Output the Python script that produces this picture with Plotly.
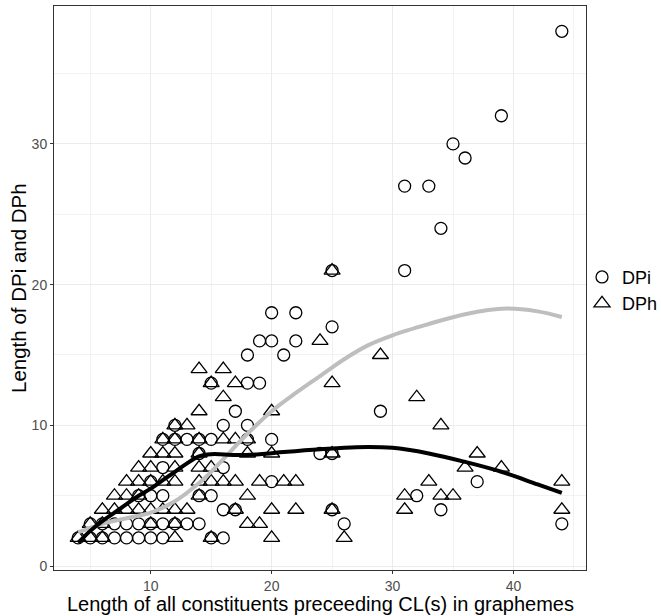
import plotly.graph_objects as go

# DPi (circles)
dpi_x = [4,5,6,7,8,9,10,11,15,16,
         5,6,7,8,9,10,11,12,13,14,26,44,
         16,17,25,34,
         9,10,11,14,15,32,
         10,20,37,
         11,16,
         14,24,25,
         11,12,13,14,15,18,20,
         12,16,18,
         17,29,
         15,18,19,
         18,21,
         19,20,22,
         25,
         20,22,
         25,31,
         34,31,33,36,35,39,44]
dpi_y = [2,2,2,2,2,2,2,2,2,2,
         3,3,3,3,3,3,3,3,3,3,3,3,
         4,4,4,4,
         5,5,5,5,5,5,
         6,6,6,
         7,7,
         8,8,8,
         9,9,9,9,9,9,9,
         10,10,10,
         11,11,
         13,13,13,
         15,15,
         16,16,16,
         17,
         18,18,
         21,21,
         24,27,27,29,30,32,38]

# DPh (triangles)
dph_x = [4,5,6,12,15,20,26,
         5,6,10,12,18,19,
         6,7,8,9,10,11,12,13,17,20,22,25,31,44,
         7,8,9,14,18,31,34,35,
         8,9,10,11,12,14,15,16,17,19,21,22,33,44,
         9,10,12,14,15,36,39,
         10,11,12,14,18,20,25,37,
         11,12,14,16,17,18,
         12,13,34,
         14,20,
         16,32,
         15,17,25,
         14,16,
         29,24,25]
dph_y = [2,2,2,2,2,2,2,
         3,3,3,3,3,3,
         4,4,4,4,4,4,4,4,4,4,4,4,4,4,
         5,5,5,5,5,5,5,5,
         6,6,6,6,6,6,6,6,6,6,6,6,6,6,
         7,7,7,7,7,7,7,
         8,8,8,8,8,8,8,8,
         9,9,9,9,9,9,
         10,10,10,
         11,11,
         12,12,
         13,13,13,
         14,14,
         15,16,21]

# smoothed curves
dpi_smooth_x = [4,6,8,10,12,14,15,16,18,20,22,24,26,28,30,33,36,39.4,42,44]
dpi_smooth_y = [2.4,3.0,3.4,3.8,4.6,5.9,6.7,7.6,9.4,11.0,12.3,13.5,14.7,15.7,16.4,17.2,17.9,18.3,18.1,17.7]
dph_smooth_x = [4,5,6,7,8,9,10,11,12,13,14,15,17,19,21,24,27,30,33,36,39,42,44]
dph_smooth_y = [1.66,2.5,3.2,3.8,4.4,5.0,5.5,6.1,6.7,7.3,7.8,7.95,7.9,7.95,8.1,8.3,8.45,8.4,8.0,7.4,6.7,5.8,5.2]

x_ticks = [10, 20, 30, 40]
y_ticks = [0, 10, 20, 30]

X_TITLE = "Length of all constituents preceeding CL(s) in graphemes"
Y_TITLE = "Length of DPi and DPh"

FONT = "Liberation Sans, Arial, sans-serif"
M_T, M_B, M_L, M_R = 6, 46, 54, 75
PLOT_H = 616 - M_T - M_B
PLOT_W = 661 - M_L - M_R

fig = go.Figure()
fig.add_trace(go.Scatter(x=dpi_x, y=dpi_y, mode="markers", name="DPi",
                         marker=dict(symbol="circle-open", size=12, color="black",
                                     line=dict(width=1.3, color="black"))))
fig.add_trace(go.Scatter(x=dph_x, y=dph_y, mode="markers", name="DPh",
                         marker=dict(symbol="triangle-up-open", size=14, color="black",
                                     line=dict(width=1.3, color="black"))))
fig.add_trace(go.Scatter(x=dpi_smooth_x, y=dpi_smooth_y, mode="lines", showlegend=False,
                         line=dict(color="#BEBEBE", width=4, shape="spline")))
fig.add_trace(go.Scatter(x=dph_smooth_x, y=dph_smooth_y, mode="lines", showlegend=False,
                         line=dict(color="black", width=4, shape="spline")))

axis_common = dict(showline=True, linecolor="#333333", linewidth=1, mirror=True,
                   showgrid=True, gridcolor="#EBEBEB", gridwidth=1,
                   ticks="outside", ticklen=3, tickcolor="#333333", tickwidth=1,
                   tickfont=dict(family=FONT, size=14, color="#4D4D4D"),
                   zeroline=False, automargin=False)

fig.update_xaxes(range=[2, 46], tickvals=x_ticks,
                 minor=dict(tickvals=[5, 15, 25, 35, 45], showgrid=True, gridcolor="#F2F2F2", gridwidth=1),
                 **axis_common)
fig.update_yaxes(range=[-0.28, 39.8], tickvals=y_ticks,
                 minor=dict(tickvals=[5, 15, 25, 35], showgrid=True, gridcolor="#F2F2F2", gridwidth=1),
                 **axis_common)

fig.add_annotation(text=X_TITLE, xref="paper", yref="paper", x=0.5, y=-M_B / PLOT_H,
                   xanchor="center", yanchor="bottom", showarrow=False, borderpad=0,
                   font=dict(family=FONT, size=20, color="black"))
fig.add_annotation(text=Y_TITLE, xref="paper", yref="paper", x=-36 / PLOT_W, y=0.5,
                   xanchor="center", yanchor="middle", textangle=-90, showarrow=False,
                   font=dict(family=FONT, size=20.5, color="black"))

fig.update_layout(width=661, height=616,
                  margin=dict(l=M_L, r=M_R, t=M_T, b=M_B, autoexpand=False),
                  paper_bgcolor="white", plot_bgcolor="white",
                  font=dict(family=FONT, color="black"),
                  legend=dict(x=0.9925, y=0.496, xanchor="left", yanchor="middle",
                              font=dict(family=FONT, size=18, color="black"),
                              itemwidth=30, tracegroupgap=0, bgcolor="rgba(0,0,0,0)"))

fig.write_html("out.html")
